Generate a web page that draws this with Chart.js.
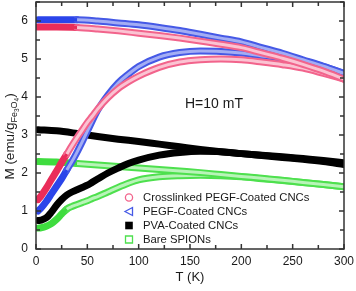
<!DOCTYPE html>
<html>
<head>
<meta charset="utf-8">
<script src="https://cdn.jsdelivr.net/npm/chart.js@4.4.0/dist/chart.umd.min.js"></script>
<style>
    html, body { margin: 0; padding: 0; background: #fff; }
    #wrap { width: 356px; height: 291px; }
</style>
</head>
<body>
<div id="wrap"><canvas id="myChart" width="356" height="291"></canvas></div>
<script>
var FONT = '"Liberation Sans", Arial, sans-serif';

// temperatures (K) of the field-cooled and zero-field-cooled branches
var T_FC = [2, 20, 40, 60, 80, 100, 120, 140, 160, 180, 200, 220, 240, 260, 280, 300];
var T_ZFC = [2, 5, 10, 15, 20, 25, 30, 35, 40, 45, 50, 55, 60, 70, 80, 90, 100, 120, 140, 160, 180, 200, 220, 240, 260, 280, 300];

// M (emu/g Fe3O4)
var crossFC = [5.84, 5.84, 5.83, 5.79, 5.74, 5.68, 5.62, 5.55, 5.47, 5.39, 5.30, 5.16, 5.02, 4.86, 4.68, 4.47];
var crossZFC = [1.30, 1.40, 1.60, 1.83, 2.05, 2.28, 2.50, 2.72, 2.93, 3.13, 3.33, 3.50, 3.68, 3.98, 4.22, 4.40, 4.55, 4.78, 4.92, 4.98, 5.00, 4.98, 4.92, 4.85, 4.76, 4.62, 4.47];
var pegfFC = [6.03, 6.03, 6.03, 6.00, 5.95, 5.90, 5.83, 5.75, 5.65, 5.55, 5.45, 5.30, 5.15, 4.98, 4.81, 4.62];
var pegfZFC = [1.00, 1.08, 1.25, 1.45, 1.65, 1.85, 2.08, 2.30, 2.55, 2.82, 3.10, 3.38, 3.65, 4.05, 4.37, 4.60, 4.80, 5.05, 5.17, 5.21, 5.20, 5.16, 5.08, 5.02, 4.95, 4.80, 4.62];
var pvaFC = [3.14, 3.11, 3.04, 2.96, 2.89, 2.83, 2.76, 2.69, 2.62, 2.56, 2.51, 2.47, 2.43, 2.38, 2.33, 2.27];
var pvaZFC = [0.75, 0.76, 0.82, 0.97, 1.15, 1.30, 1.42, 1.50, 1.56, 1.62, 1.68, 1.76, 1.84, 2.00, 2.13, 2.25, 2.34, 2.47, 2.54, 2.57, 2.56, 2.51, 2.46, 2.41, 2.36, 2.30, 2.22];
var bareFC = [2.30, 2.29, 2.25, 2.21, 2.17, 2.13, 2.09, 2.05, 2.01, 1.96, 1.91, 1.86, 1.81, 1.75, 1.70, 1.64];
var bareZFC = [0.55, 0.56, 0.60, 0.67, 0.78, 0.92, 1.05, 1.12, 1.17, 1.22, 1.27, 1.33, 1.38, 1.50, 1.62, 1.73, 1.82, 1.90, 1.93, 1.94, 1.93, 1.90, 1.85, 1.80, 1.75, 1.70, 1.64];

var LABELS = ['Crosslinked PEGF-Coated CNCs', 'PEGF-Coated CNCs', 'PVA-Coated CNCs', 'Bare SPIONs'];
var X_TICKS = [0, 50, 100, 150, 200, 250, 300];
var Y_TICKS = [0, 1, 2, 3, 4, 5, 6];
var FIELD = 'H=10 mT';

var series = [
    {fc: crossFC, zfc: crossZFC, edge: '#f2648c', inner: '#fbc3d2', dense: '#ea2d5a', marker: 'circle'},
    {fc: pegfFC, zfc: pegfZFC, edge: '#4559e6', inner: '#a3adf4', dense: '#2b45ea', marker: 'triangle'},
    {fc: pvaFC, zfc: pvaZFC, edge: '#000000', inner: '#000000', dense: '#000000', marker: 'filled'},
    {fc: bareFC, zfc: bareZFC, edge: '#4ee04e', inner: '#b8f4b8', dense: '#3fdc3f', marker: 'square'}
];

function toPoints(xs, ys) {
    return xs.map(function (x, i) { return {x: x, y: ys[i]}; });
}

function lowT(color, other) {
    return function (c) { return c.p0.parsed.x < 28 ? color : other; };
}

var datasets = [];
series.forEach(function (s, i) {
    [[T_FC, s.fc], [T_ZFC, s.zfc]].forEach(function (b, j) {
        var data = toPoints(b[0], b[1]);
        datasets.push({
            label: LABELS[i], data: data, order: i * 4 + j * 2 + 1,
            borderColor: s.edge, borderWidth: 7, pointRadius: 0,
            cubicInterpolationMode: 'monotone', borderCapStyle: 'round',
            segment: {borderColor: lowT(s.dense, s.edge)}
        });
        datasets.push({
            label: LABELS[i], data: data, order: i * 4 + j * 2,
            borderColor: s.inner, borderWidth: 3, pointRadius: 0,
            cubicInterpolationMode: 'monotone',
            segment: {borderColor: lowT(s.dense, s.inner)}
        });
    });
});

function drawMarker(ctx, kind, x, y, color) {
    ctx.strokeStyle = color;
    ctx.fillStyle = color;
    ctx.lineWidth = 1.3;
    ctx.beginPath();
    if (kind === 'circle') {
        ctx.arc(x, y, 3.6, 0, Math.PI * 2);
        ctx.stroke();
    } else if (kind === 'triangle') {
        ctx.moveTo(x - 4, y);
        ctx.lineTo(x + 3.5, y - 4);
        ctx.lineTo(x + 3.5, y + 4);
        ctx.closePath();
        ctx.stroke();
    } else if (kind === 'filled') {
        ctx.rect(x - 3.8, y - 3.8, 7.6, 7.6);
        ctx.fill();
    } else {
        ctx.rect(x - 3.5, y - 3.5, 7, 7);
        ctx.stroke();
    }
}

var decorPlugin = {
    id: 'decor',
    afterDatasetsDraw: function (chart) {
        var ctx = chart.ctx, a = chart.chartArea;
        var xs = chart.scales.x, ys = chart.scales.y;
        ctx.save();

        // frame and inward ticks on all four sides
        ctx.strokeStyle = '#333';
        ctx.lineWidth = 1.5;
        ctx.strokeRect(a.left, a.top, a.right - a.left, a.bottom - a.top);
        ctx.beginPath();
        for (var v = 0; v <= 300; v += 25) {
            var px = xs.getPixelForValue(v), len = v % 50 === 0 ? 5 : 4;
            ctx.moveTo(px, a.bottom); ctx.lineTo(px, a.bottom - len);
            ctx.moveTo(px, a.top); ctx.lineTo(px, a.top + len);
        }
        for (var m = 0; m <= 6.5; m += 0.5) {
            var py = ys.getPixelForValue(m), l2 = m % 1 === 0 ? 5 : 4;
            ctx.moveTo(a.left, py); ctx.lineTo(a.left + l2, py);
            ctx.moveTo(a.right, py); ctx.lineTo(a.right - l2, py);
        }
        ctx.stroke();

        // legend
        ctx.font = '11.3px ' + FONT;
        ctx.textBaseline = 'middle';
        ctx.textAlign = 'left';
        LABELS.forEach(function (lab, i) {
            var y = 197.5 + i * 14;
            drawMarker(ctx, series[i].marker, 129, y, series[i].edge);
            ctx.fillStyle = '#1a1a1a';
            ctx.fillText(lab, 143, y + 0.5);
        });

        ctx.font = '14px ' + FONT;
        ctx.fillStyle = '#1a1a1a';
        ctx.fillText(FIELD, 185, 104);

        // axis titles
        ctx.font = '13px ' + FONT;
        ctx.textAlign = 'center';
        ctx.fillText('T (K)', (a.left + a.right) / 2, 277);

        var parts = [
            {t: 'M (emu/g', s: 13.5, dy: 0},
            {t: 'Fe', s: 9, dy: 3},
            {t: '3', s: 6.5, dy: 5},
            {t: 'O', s: 9, dy: 3},
            {t: '4', s: 6.5, dy: 5},
            {t: ')', s: 13.5, dy: 0}
        ];
        ctx.textAlign = 'left';
        ctx.textBaseline = 'alphabetic';
        var total = 0;
        parts.forEach(function (p) {
            ctx.font = p.s + 'px ' + FONT;
            p.w = ctx.measureText(p.t).width;
            total += p.w;
        });
        ctx.translate(14, 136.5);
        ctx.rotate(-Math.PI / 2);
        var cx = -total / 2;
        parts.forEach(function (p) {
            ctx.font = p.s + 'px ' + FONT;
            ctx.fillText(p.t, cx, p.dy);
            cx += p.w;
        });
        ctx.restore();
    }
};

var ctx = document.getElementById('myChart').getContext('2d');
var myChart = new Chart(ctx, {
    type: 'line',
    data: {datasets: datasets},
    plugins: [decorPlugin],
    options: {
        responsive: false,
        animation: false,
        layout: {padding: {top: 2, right: 12, left: 0, bottom: 0}},
        plugins: {legend: {display: false}, tooltip: {enabled: false}},
        scales: {
            x: {
                type: 'linear', min: 0, max: 300,
                grid: {display: false, drawTicks: false}, border: {display: false},
                afterFit: function (scale) {
                    scale.height = 42;
                    scale.paddingLeft = 0;
                    scale.paddingRight = 0;
                },
                afterBuildTicks: function (scale) {
                    scale.ticks = X_TICKS.map(function (v) { return {value: v}; });
                },
                ticks: {color: '#1a1a1a', padding: 5, maxRotation: 0, font: {family: FONT, size: 12}}
            },
            y: {
                type: 'linear', min: 0, max: 6.5,
                grid: {display: false, drawTicks: false}, border: {display: false},
                afterFit: function (scale) {
                    scale.width = 36;
                    scale.paddingTop = 0;
                    scale.paddingBottom = 0;
                },
                afterBuildTicks: function (scale) {
                    scale.ticks = Y_TICKS.map(function (v) { return {value: v}; });
                },
                ticks: {color: '#1a1a1a', padding: 8, font: {family: FONT, size: 12}}
            }
        }
    }
});
</script>
</body>
</html>
